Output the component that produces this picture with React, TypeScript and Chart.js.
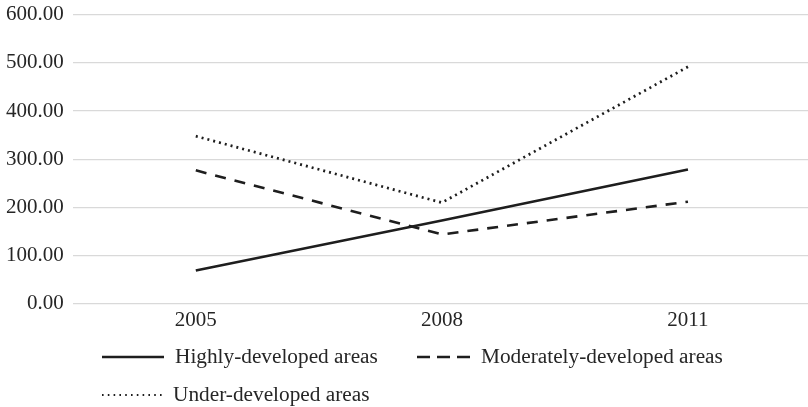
import React, { useEffect, useRef } from "react";
import { Chart, registerables } from "chart.js";

Chart.register(...registerables);

const years = ["2005", "2008", "2011"];
const highlyDeveloped = [69, 173, 279];
const moderatelyDeveloped = [277, 144, 212];
const underDeveloped = [348, 210, 492];
const seriesNames = ["Highly-developed areas", "Moderately-developed areas", "Under-developed areas"];

const FONT = "'Liberation Serif', 'Times New Roman', serif";
const INK = "#1e1e1e";
const TEXT = "#262626";

const legendPlugin = {
  id: "customLegend",
  afterDraw(chart: any) {
    const ctx = chart.ctx;
    const items = [
      { x: 102, y: 357, len: 62, ds: 0, dash: [] as number[] },
      { x: 417, y: 357, len: 53, ds: 1, dash: [13, 7] },
      { x: 102, y: 395, len: 60, ds: 2, dash: [1.6, 4.2] },
    ];
    ctx.save();
    items.forEach((it) => {
      const ds = chart.data.datasets[it.ds];
      ctx.beginPath();
      ctx.strokeStyle = ds.borderColor;
      ctx.lineWidth = it.ds === 2 ? 2.2 : ds.borderWidth;
      ctx.setLineDash(it.dash);
      ctx.lineCap = "butt";
      ctx.moveTo(it.x, it.y);
      ctx.lineTo(it.x + it.len, it.y);
      ctx.stroke();
      ctx.setLineDash([]);
      ctx.fillStyle = TEXT;
      ctx.font = `21.3px ${FONT}`;
      ctx.textBaseline = "middle";
      ctx.textAlign = "left";
      ctx.fillText(ds.label, it.x + it.len + 11, it.y);
    });
    ctx.restore();
  },
};

export default function App() {
  const ref = useRef<HTMLCanvasElement>(null);
  useEffect(() => {
    document.body.style.margin = "0";
    const chart = new Chart(ref.current!, {
      type: "line",
      data: {
        labels: years,
        datasets: [
          {
            label: seriesNames[0],
            data: highlyDeveloped,
            borderColor: INK,
            borderWidth: 2.6,
            pointRadius: 0,
            tension: 0,
          },
          {
            label: seriesNames[1],
            data: moderatelyDeveloped,
            borderColor: INK,
            borderWidth: 2.6,
            borderDash: [11, 9],
            pointRadius: 0,
            tension: 0,
          },
          {
            label: seriesNames[2],
            data: underDeveloped,
            borderColor: INK,
            borderWidth: 2.7,
            borderDash: [2, 4],
            pointRadius: 0,
            tension: 0,
          },
        ],
      },
      options: {
        animation: false,
        responsive: false,
        layout: { padding: { top: 0, right: 0, bottom: 70, left: -3 } },
        plugins: { legend: { display: false }, tooltip: { enabled: false } },
        scales: {
          x: {
            offset: true,
            grid: { display: false, drawTicks: false },
            border: { display: false },
            ticks: { color: TEXT, font: { family: FONT, size: 21 }, padding: 4 },
          },
          y: {
            min: 0,
            max: 600,
            grid: { color: "#d9d9d9", lineWidth: 1.3, drawTicks: false },
            border: { display: false },
            ticks: {
              stepSize: 100,
              color: TEXT,
              font: { family: FONT, size: 21, lineHeight: 0.55 },
              padding: 9,
              callback: (v: any) => Number(v).toFixed(2),
            },
          },
        },
      },
      plugins: [legendPlugin],
    });
    return () => chart.destroy();
  }, []);
  return (
    <div style={{ width: 808, height: 407, overflow: "hidden" }}>
      <canvas ref={ref} width={811} height={407} style={{ display: "block" }} />
    </div>
  );
}
